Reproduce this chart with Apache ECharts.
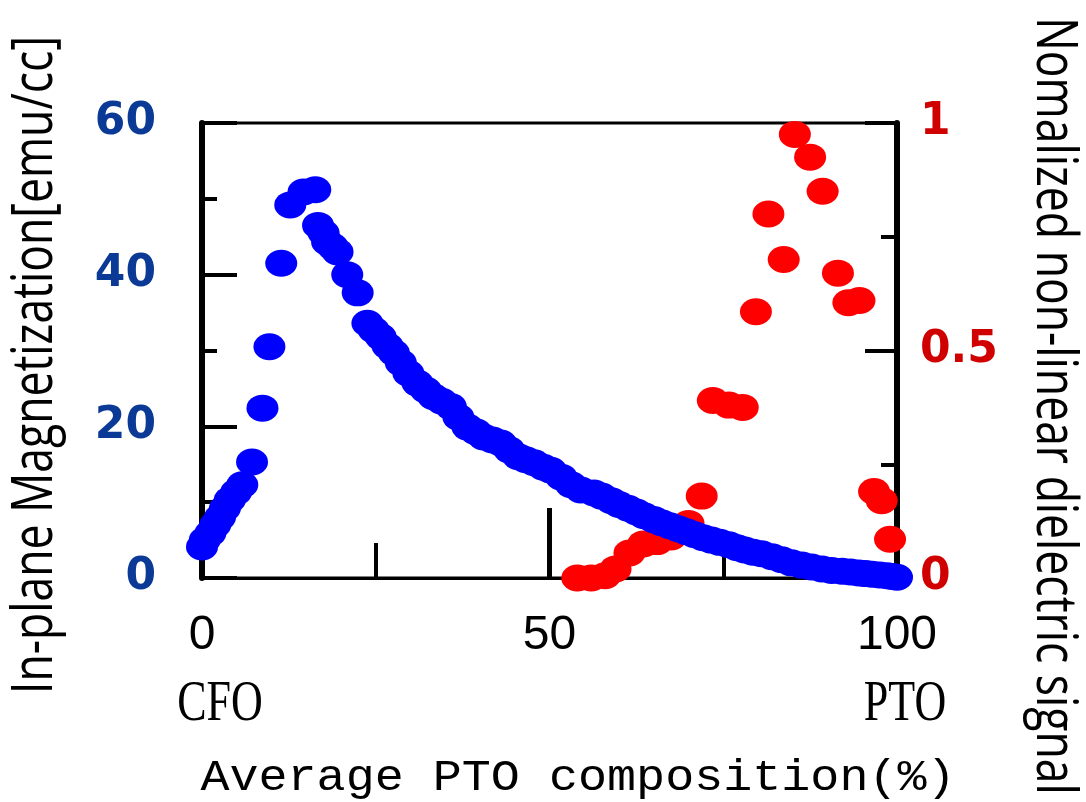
<!DOCTYPE html>
<html lang="en">

<head>
    <meta charset="UTF-8">
    <title>PTO composition</title>
    <style>
        html, body { margin: 0; padding: 0; background: #fff; }
        .chart { width: 1086px; height: 802px; }
    </style>
</head>

<body>
    <div class="chart"></div>
    <script src="https://cdn.jsdelivr.net/npm/echarts/dist/echarts.min.js"></script>
    <script>
        // in-plane magnetization (left axis, emu/cc)
        var magComp = [0, 0.4, 1.2, 1.9, 2.6, 3.3, 4.0, 4.9, 5.8, 7.2, 8.7, 9.7, 11.4, 12.7, 14.6, 16.3,
            16.7, 17.5, 18.0, 18.8, 19.5, 20.9, 22.4, 23.8, 24.7, 25.7, 26.7, 27.6, 28.6, 29.7, 31.0, 32.2,
            33.3, 34.5, 35.8, 36.9, 38.2, 39.4, 40.5, 41.8, 43.0, 44.2, 45.5, 46.6, 47.8, 49.1, 50.2, 51.7,
            53.1, 54.5, 56.4, 57.5, 58.9, 60.0, 61.3, 62.5, 63.6, 65.0, 66.1, 67.3, 68.5, 69.7, 70.9, 72.1,
            73.3, 74.5, 75.8, 77.0, 78.1, 79.3, 80.5, 82.0, 83.4, 84.8, 86.3, 87.7, 89.2, 90.6, 92.1, 93.3,
            94.5, 95.5, 96.4, 97.5, 98.6, 99.3, 100]
        var magValue = [4.1, 5.0, 5.9, 7.0, 8.0, 9.2, 10.3, 11.3, 12.3, 15.3, 22.4, 30.5, 41.5, 49.2, 50.9, 51.2,
            46.5, 45.5, 44.3, 43.7, 43.0, 40.0, 37.6, 33.6, 32.7, 31.8, 30.6, 29.7, 28.4, 27.0, 25.7, 24.8,
            23.9, 23.3, 22.6, 21.2, 19.9, 19.3, 18.6, 18.2, 17.8, 16.9, 16.0, 15.6, 15.2, 14.6, 14.2, 13.3,
            12.3, 11.6, 11.2, 10.8, 10.2, 9.7, 9.2, 8.7, 8.2, 7.7, 7.3, 6.9, 6.5, 6.1, 5.7, 5.3,
            5.0, 4.7, 4.4, 4.0, 3.7, 3.4, 3.2, 2.8, 2.4, 2.0, 1.7, 1.45, 1.2, 1.0, 0.9, 0.8,
            0.66, 0.58, 0.5, 0.4, 0.3, 0.2, 0.1]

        // normalized non-linear dielectric signal (right axis)
        var sigComp = [54.0, 56.0, 58.0, 59.5, 61.5, 63.5, 65.5, 67.5, 70.0, 71.9, 73.5, 75.8, 77.8, 79.7,
            81.5, 83.7, 85.3, 87.5, 89.3, 91.5, 93.0, 94.6, 96.7, 97.8, 99.0]
        var sigValue = [0.0, 0.0, 0.005, 0.02, 0.055, 0.075, 0.08, 0.09, 0.12, 0.18, 0.39, 0.38, 0.375, 0.585,
            0.80, 0.70, 0.975, 0.925, 0.85, 0.67, 0.605, 0.61, 0.19, 0.17, 0.085]

        var endNames = ['CFO', 'PTO']
        var leftName = 'In-plane Magnetization[emu/cc]'
        var rightName = 'Nomalized non-linear dielectric signal'
        var xName = 'Average PTO composition(%)'

        function zip(xs, ys) {
            return xs.map(function (x, i) { return [x, ys[i]] })
        }

        var myecharts = echarts.init(document.getElementsByClassName('chart')[0]);
        var option = {
            animation: false,
            grid: {
                left: 202, top: 123, width: 695, height: 455,
                show: true, borderColor: '#000', borderWidth: 3,
                outerBoundsMode: 'none'
            },
            xAxis: {
                type: 'value', min: 0, max: 100, interval: 50,
                splitLine: { show: false },
                axisLine: { onZero: false, lineStyle: { color: '#000', width: 3 } },
                axisTick: { inside: true, length: 70, lineStyle: { color: '#000', width: 5 } },
                minorTick: { show: true, splitNumber: 2, length: 35, lineStyle: { color: '#000', width: 4 } },
                axisLabel: {
                    margin: 34, color: '#000', fontSize: 48,
                    fontFamily: '"Liberation Sans"'
                }
            },
            yAxis: [
                {
                    type: 'value', min: 0, max: 60, interval: 20, position: 'left',
                    splitLine: { show: false },
                    axisLine: { show: true, onZero: false, lineStyle: { color: '#000', width: 6 } },
                    axisTick: { show: true, inside: true, length: 35, lineStyle: { color: '#000', width: 4 } },
                    minorTick: { show: true, splitNumber: 2, length: 15, lineStyle: { color: '#000', width: 4 } },
                    axisLabel: {
                        margin: 46, color: '#0a3a96', fontSize: 44, fontWeight: 'bold',
                        fontFamily: '"DejaVu Sans"'
                    }
                },
                {
                    type: 'value', min: 0, max: 1, interval: 0.5, position: 'right',
                    splitLine: { show: false },
                    axisLine: { show: true, onZero: false, lineStyle: { color: '#000', width: 6 } },
                    axisTick: { show: true, inside: true, length: 32, lineStyle: { color: '#000', width: 4 } },
                    minorTick: { show: true, splitNumber: 2, length: 16, lineStyle: { color: '#000', width: 4 } },
                    axisLabel: {
                        margin: 23, color: '#d00000', fontSize: 44, fontWeight: 'bold',
                        fontFamily: '"DejaVu Sans"'
                    }
                }
            ],
            series: [
                {
                    name: 'signal', type: 'scatter', xAxisIndex: 0, yAxisIndex: 1,
                    data: zip(sigComp, sigValue),
                    symbol: 'circle', symbolSize: [32, 27],
                    itemStyle: { color: '#ff0000', opacity: 1 },
                    clip: false
                },
                {
                    name: 'magnetization', type: 'scatter', xAxisIndex: 0, yAxisIndex: 0,
                    data: zip(magComp, magValue),
                    symbol: 'circle', symbolSize: [32, 27],
                    itemStyle: { color: '#0000ff', opacity: 1 },
                    clip: false
                }
            ],
            graphic: [
                {
                    type: 'text', x: 36, y: 365, rotation: Math.PI / 2, scaleX: 0.795,
                    style: {
                        text: leftName, fontSize: 56, fontFamily: '"Open Sans"', fill: '#000',
                        align: 'center', verticalAlign: 'middle'
                    }
                },
                {
                    type: 'text', x: 1053, y: 406, rotation: -Math.PI / 2, scaleX: 0.795,
                    style: {
                        text: rightName, fontSize: 56, fontFamily: '"Open Sans"', fill: '#000',
                        align: 'center', verticalAlign: 'middle'
                    }
                },
                {
                    type: 'text', x: 220, y: 705, scaleY: 1.3,
                    style: {
                        text: endNames[0], fontSize: 44, fontFamily: '"Liberation Serif"', fill: '#000',
                        align: 'center', verticalAlign: 'middle'
                    }
                },
                {
                    type: 'text', x: 905, y: 705, scaleY: 1.3,
                    style: {
                        text: endNames[1], fontSize: 44, fontFamily: '"Liberation Serif"', fill: '#000',
                        align: 'center', verticalAlign: 'middle'
                    }
                },
                {
                    type: 'text', x: 578, y: 778, scaleX: 1.1,
                    style: {
                        text: xName, fontSize: 44, fontFamily: '"Liberation Mono"', fill: '#000',
                        align: 'center', verticalAlign: 'middle'
                    }
                }
            ]
        }
        myecharts.setOption(option);
        window.onresize = myecharts.resize
    </script>
</body>

</html>
